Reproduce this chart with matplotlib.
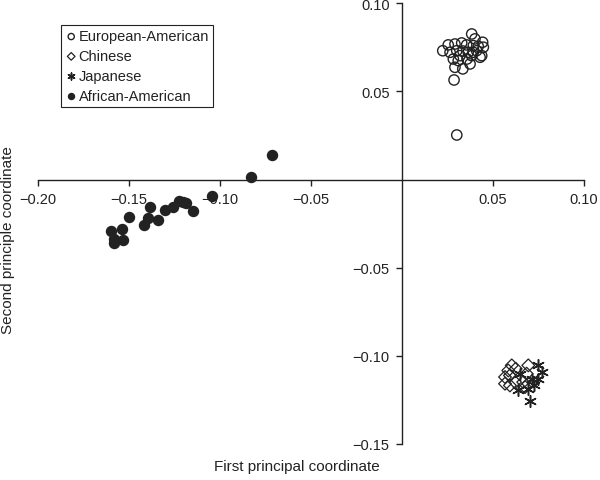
import matplotlib
matplotlib.use("Agg")
import matplotlib.pyplot as plt

plt.rcParams['font.family'] = ['Liberation Sans', 'DejaVu Sans']
plt.rcParams['axes.unicode_minus'] = True

# European-American
eur_x = [0.0383, 0.0401, 0.0443, 0.0224, 0.0254, 0.0291, 0.0328, 0.0355, 0.0392, 0.0419,
         0.0447, 0.0264, 0.0301, 0.0319, 0.0282, 0.0309, 0.0364, 0.0392, 0.0410, 0.0438,
         0.0383, 0.0291, 0.0334, 0.0374, 0.0429, 0.0286, 0.0301, 0.0335, 0.0357]
eur_y = [0.0826, 0.0798, 0.0779, 0.0731, 0.0764, 0.0769, 0.0775, 0.0764, 0.0760, 0.0756,
         0.0751, 0.0722, 0.0731, 0.0703, 0.0684, 0.0675, 0.0722, 0.0722, 0.0731, 0.0703,
         0.0703, 0.0637, 0.0628, 0.0656, 0.0694, 0.0565, 0.0253, 0.0729, 0.0684]

# Chinese
chn_x = [0.0603, 0.0584, 0.0625, 0.0694, 0.0685, 0.0566, 0.0593, 0.0566, 0.0593, 0.0621,
         0.0666, 0.0694, 0.0676]
chn_y = [-0.1054, -0.1083, -0.1073, -0.1054, -0.1101, -0.1120, -0.1111, -0.1158, -0.1168, -0.1149,
         -0.1149, -0.1158, -0.1177]

# Japanese
jpn_x = [0.0749, 0.0768, 0.0648, 0.0713, 0.0727, 0.0639, 0.0694, 0.0703, 0.0749]
jpn_y = [-0.1054, -0.1092, -0.1101, -0.1130, -0.1168, -0.1196, -0.1187, -0.1256, -0.1130]

# African-American
afr_x = [-0.0713, -0.0831, -0.1046, -0.1224, -0.1205, -0.1187, -0.1150, -0.1260, -0.1302, -0.1385,
         -0.1394, -0.1339, -0.1498, -0.1416, -0.1599, -0.1540, -0.1582, -0.1531, -0.1582]
afr_y = [0.0140, 0.0014, -0.0094, -0.0119, -0.0128, -0.0134, -0.0181, -0.0156, -0.0170, -0.0156,
         -0.0217, -0.0228, -0.0215, -0.0257, -0.0291, -0.0283, -0.0336, -0.0340, -0.0359]

labels = ['European-American', 'Chinese', 'Japanese', 'African-American']
xticks = [-0.20, -0.15, -0.10, -0.05, 0.05, 0.10]
yticks = [0.10, 0.05, -0.05, -0.10, -0.15]

ink = '#222222'
fig = plt.figure(figsize=(6.0, 4.81), dpi=100)
ax = fig.add_axes([38/600, 1-445/481, (584-38)/600, (445-4.3)/481])

ax.scatter(eur_x, eur_y, s=55, facecolors='none', edgecolors=ink, linewidths=1.0, label=labels[0], zorder=3)
ax.scatter(chn_x, chn_y, s=42, marker='D', facecolors='none', edgecolors=ink, linewidths=0.9, label=labels[1], zorder=3)
ax.scatter(jpn_x, jpn_y, s=70, marker=(6, 2, 0), color=ink, linewidths=1.1, label=labels[2], zorder=3)
ax.scatter(afr_x, afr_y, s=52, color=ink, label=labels[3], zorder=3)

ax.set_xlim(-0.20, 0.10)
ax.set_ylim(-0.15, 0.10)
ax.spines['left'].set_position(('data', 0))
ax.spines['bottom'].set_position(('data', 0))
ax.spines['top'].set_visible(False)
ax.spines['right'].set_visible(False)
for s in ('left', 'bottom'):
    ax.spines[s].set_color(ink)
    ax.spines[s].set_linewidth(1.0)

ax.set_xticks(xticks)
ax.set_xticklabels([f"{v:.2f}".replace('-', '\u2212') for v in xticks])
ax.set_yticks(yticks)
ax.set_yticklabels([f"{v:.2f}".replace('-', '\u2212') for v in yticks])
ax.tick_params(direction='out', length=4, width=1.0, color=ink, labelsize=10.5, labelcolor=ink, pad=5)

fig.text(297/600, 1-467/481, 'First principal coordinate', ha='center', va='center', fontsize=11, color=ink)
fig.text(8/600, 1-240/481, 'Second principle coordinate', ha='center', va='center', rotation=90, fontsize=11, color=ink)

leg = ax.legend(loc='upper left', bbox_to_anchor=(61/600, 1-26/481), bbox_transform=fig.transFigure,
                borderaxespad=0, fancybox=False, framealpha=1, edgecolor=ink, fontsize=10.5,
                markerscale=0.6, handletextpad=0.1, handlelength=0.8, borderpad=0.3, labelspacing=0.4)
leg.get_frame().set_linewidth(0.8)
for t in leg.get_texts():
    t.set_color(ink)

fig.savefig('out.png', dpi=100)
